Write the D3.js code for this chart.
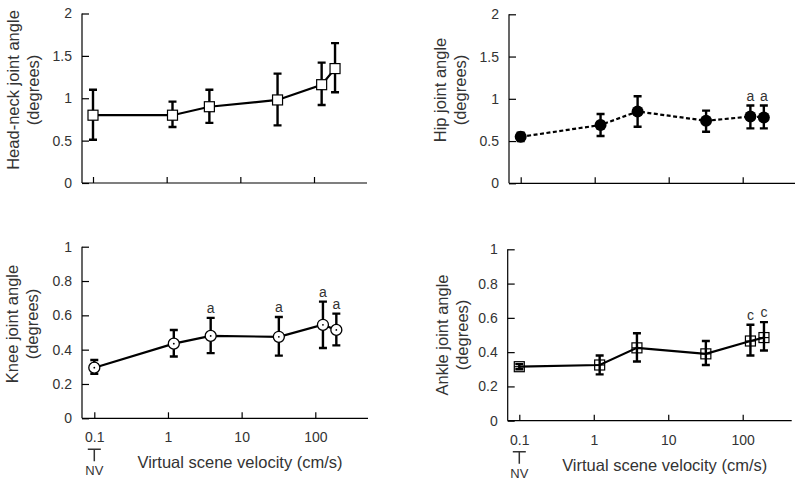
<!DOCTYPE html>
<html><head><meta charset="utf-8">
<script src="https://cdn.jsdelivr.net/npm/d3@7"></script>
<style>html,body{margin:0;padding:0;background:#fff;}svg{display:block;}</style>
</head><body>
<svg id="chart" width="800" height="483"></svg>
<script>
const velocities = [0.1, 1.2, 3.8, 32, 127, 193];
const xTickValues = [0.1, 1, 10, 100];
const xTickLabels = ["0.1", "1", "10", "100"];

const headNeckMean  = [0.80, 0.80, 0.90, 0.98, 1.16, 1.35];
const headNeckUpper = [1.10, 0.96, 1.10, 1.29, 1.42, 1.65];
const headNeckLower = [0.51, 0.66, 0.71, 0.68, 0.92, 1.07];

const hipMean  = [0.55, 0.69, 0.85, 0.74, 0.79, 0.78];
const hipUpper = [0.60, 0.82, 1.03, 0.86, 0.92, 0.92];
const hipLower = [0.50, 0.56, 0.67, 0.61, 0.65, 0.65];
const hipSig   = ["", "", "", "", "a", "a"];

const kneeMean  = [0.295, 0.435, 0.48, 0.475, 0.545, 0.515];
const kneeUpper = [0.34, 0.515, 0.585, 0.59, 0.68, 0.61];
const kneeLower = [0.26, 0.36, 0.38, 0.365, 0.41, 0.425];
const kneeSig   = ["", "", "a", "a", "a", "a"];

const ankleMean  = [0.315, 0.325, 0.425, 0.39, 0.465, 0.485];
const ankleUpper = [0.33, 0.38, 0.51, 0.465, 0.56, 0.575];
const ankleLower = [0.30, 0.27, 0.345, 0.325, 0.38, 0.41];
const ankleSig   = ["", "", "", "", "c", "c"];

const topYTicks = [0, 0.5, 1, 1.5, 2];
const topYLabels = ["0", "0.5", "1", "1.5", "2"];
const bottomYTicks = [0, 0.2, 0.4, 0.6, 0.8, 1];
const bottomYLabels = ["0", "0.2", "0.4", "0.6", "0.8", "1"];

const xTitle = "Virtual scene velocity (cm/s)";
const nvLabel = "NV";

const panels = [
  {title1: "Head-neck joint angle", title2: "(degrees)", mean: headNeckMean, upper: headNeckUpper, lower: headNeckLower, sig: null,
   yTicks: topYTicks, yLabels: topYLabels, yMax: 2,
   axL: 82, axR: 367, y0: 183, yTop: 13.5, x01: 93, x100: 314, marker: "square", dash: null, markerOnTop: true,
   tX1: 19, tX2: 39, tY: 90, showX: false},
  {title1: "Hip joint angle", title2: "(degrees)", mean: hipMean, upper: hipUpper, lower: hipLower, sig: hipSig,
   yTicks: topYTicks, yLabels: topYLabels, yMax: 2,
   axL: 509, axR: 795, y0: 183.3, yTop: 14.3, x01: 520.7, x100: 742.7, marker: "filled", dash: "4,2.5", markerOnTop: true,
   tX1: 446, tX2: 466, tY: 90, showX: false},
  {title1: "Knee joint angle", title2: "(degrees)", mean: kneeMean, upper: kneeUpper, lower: kneeLower, sig: kneeSig,
   yTicks: bottomYTicks, yLabels: bottomYLabels, yMax: 1,
   axL: 82, axR: 368, y0: 418.3, yTop: 246.7, x01: 94.3, x100: 315.3, marker: "circle", dash: null, markerOnTop: true,
   tX1: 18, tX2: 38, tY: 324, showX: true},
  {title1: "Ankle joint angle", title2: "(degrees)", mean: ankleMean, upper: ankleUpper, lower: ankleLower, sig: ankleSig,
   yTicks: bottomYTicks, yLabels: bottomYLabels, yMax: 1,
   axL: 507.7, axR: 791.7, y0: 420.7, yTop: 249.3, x01: 519.3, x100: 742.7, marker: "square", dash: null, markerOnTop: false,
   tX1: 448, tX2: 468, tY: 335, showX: true}
];

const svg = d3.select("#chart");
const FONT = "Arial, 'Liberation Sans', sans-serif";
const TXT = "#333";

panels.forEach(p => {
  const g = svg.append("g");
  const x = d3.scaleLog().domain([0.1, 100]).range([p.x01, p.x100]);
  const y = d3.scaleLinear().domain([0, p.yMax]).range([p.y0, p.yTop]);

  // y axis (ticks pointing inward)
  const yAxis = d3.axisRight(y).tickValues(p.yTicks).tickSize(7).tickFormat((d, i) => p.yLabels[i]);
  const ya = g.append("g").attr("transform", `translate(${p.axL},0)`).call(yAxis);
  ya.select(".domain").attr("d", `M0,${p.yTop}V${p.y0}`).attr("stroke", "#000").attr("stroke-width", 1.2);
  ya.selectAll(".tick line").attr("stroke", "#000").attr("stroke-width", 1.2);
  ya.selectAll(".tick text").attr("x", -10).attr("text-anchor", "end").attr("font-family", FONT)
    .attr("font-size", 14).attr("fill", TXT);

  // x axis (ticks pointing upward)
  const xAxis = d3.axisTop(x).tickValues(xTickValues).tickSize(6).tickFormat((d, i) => xTickLabels[i]);
  const xa = g.append("g").attr("transform", `translate(0,${p.y0})`).call(xAxis);
  xa.select(".domain").attr("d", `M${p.axL},0H${p.axR}`).attr("stroke", "#000").attr("stroke-width", 1.2);
  xa.selectAll(".tick line").attr("stroke", "#000").attr("stroke-width", 1.2);
  if (p.showX) {
    xa.selectAll(".tick text").attr("y", 24).attr("dy", null).attr("font-family", FONT)
      .attr("font-size", 14).attr("fill", TXT);
  } else {
    xa.selectAll(".tick text").remove();
  }

  // y title
  const tg = g.append("g").attr("font-family", FONT).attr("font-size", 16.5).attr("fill", TXT).attr("text-anchor", "middle");
  tg.append("text").attr("transform", `translate(${p.tX1},${p.tY}) rotate(-90)`).text(p.title1);
  tg.append("text").attr("transform", `translate(${p.tX2},${p.tY}) rotate(-90)`).text(p.title2);

  if (p.showX) {
    const xc = x(0.1);
    g.append("text").attr("x", (p.axL + p.axR) / 2 + 15).attr("y", p.y0 + 50).attr("text-anchor", "middle")
      .attr("font-family", FONT).attr("font-size", 16.5).attr("fill", TXT).text(xTitle);
    g.append("path").attr("d", `M${xc - 6.5},${p.y0 + 31}H${xc + 6.5}M${xc},${p.y0 + 31}V${p.y0 + 43}`)
      .attr("stroke", TXT).attr("stroke-width", 1.5).attr("fill", "none");
    g.append("text").attr("x", xc).attr("y", p.y0 + 57).attr("text-anchor", "middle")
      .attr("font-family", FONT).attr("font-size", 13).attr("fill", TXT).text(nvLabel);
  }

  const data = velocities.map((v, i) => ({v, m: p.mean[i], u: p.upper[i], l: p.lower[i], s: p.sig ? p.sig[i] : ""}));

  const drawMarkers = () => {
    const mg = g.append("g");
    data.forEach(d => {
      const cx = x(d.v), cy = y(d.m);
      if (p.marker === "square") {
        mg.append("rect").attr("x", cx - 5).attr("y", cy - 5).attr("width", 10).attr("height", 10)
          .attr("fill", p.markerOnTop ? "#fff" : "none").attr("stroke", "#000").attr("stroke-width", 1.2);
      } else if (p.marker === "filled") {
        mg.append("circle").attr("cx", cx).attr("cy", cy).attr("r", 6).attr("fill", "#000");
      } else {
        mg.append("circle").attr("cx", cx).attr("cy", cy).attr("r", 5.5).attr("fill", "#fff")
          .attr("stroke", "#000").attr("stroke-width", 1.3);
        mg.append("circle").attr("cx", cx).attr("cy", cy).attr("r", 0.9).attr("fill", "#000");
      }
    });
  };

  if (!p.markerOnTop) {
    data.forEach(d => {
      g.append("rect").attr("x", x(d.v) - 5).attr("y", y(d.m) - 5).attr("width", 10).attr("height", 10).attr("fill", "#fff");
    });
  }

  // line
  const line = d3.line().x(d => x(d.v)).y(d => y(d.m));
  g.append("path").datum(data).attr("d", line).attr("fill", "none").attr("stroke", "#000")
    .attr("stroke-width", 2.2).attr("stroke-dasharray", p.dash);

  // error bars
  const eg = g.append("g").attr("stroke", "#000").attr("stroke-width", 2.4).attr("fill", "none");
  data.forEach(d => {
    const cx = x(d.v);
    eg.append("path").attr("d",
      `M${cx},${y(d.u)}V${y(d.l)}M${cx - 4},${y(d.u)}H${cx + 4}M${cx - 4},${y(d.l)}H${cx + 4}`);
  });

  if (!p.markerOnTop) {
    data.forEach(d => {
      g.append("path").attr("d", `M${x(d.v) - 5},${y(d.m)}H${x(d.v) + 5}`).attr("stroke", "#000").attr("stroke-width", 1.2);
    });
  }
  drawMarkers();

  // significance letters
  data.forEach(d => {
    if (d.s) {
      g.append("text").attr("x", x(d.v)).attr("y", y(d.u) - 5).attr("text-anchor", "middle")
        .attr("font-family", FONT).attr("font-size", 14).attr("fill", TXT).text(d.s);
    }
  });
});
</script>
</body></html>
